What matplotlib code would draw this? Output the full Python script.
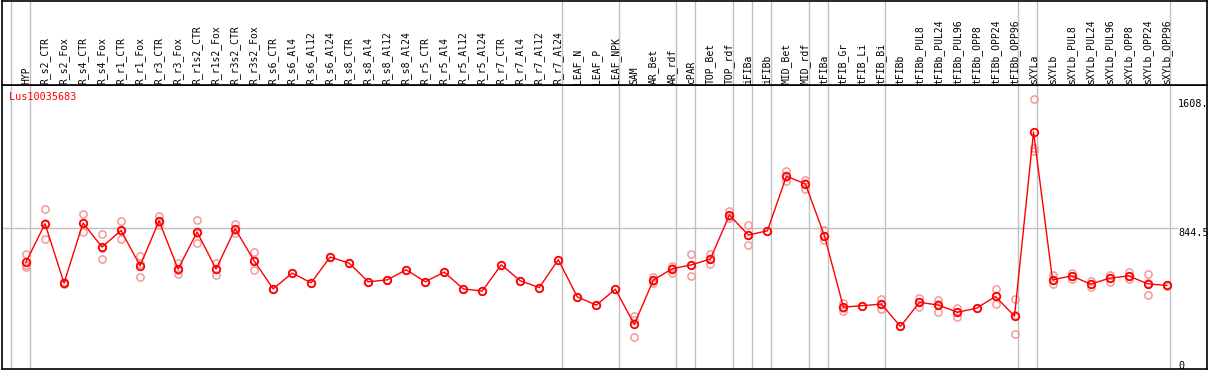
import matplotlib
matplotlib.use("Agg")
import matplotlib.pyplot as plt
from matplotlib.transforms import blended_transform_factory

gene_id = "Lus10035683"

categories = [
    "HYP", "R_s2_CTR", "R_s2_Fox", "R_s4_CTR", "R_s4_Fox", "R_r1_CTR", "R_r1_Fox",
    "R_r3_CTR", "R_r3_Fox", "R_r1s2_CTR", "R_r1s2_Fox", "R_r3s2_CTR", "R_r3s2_Fox",
    "R_s6_CTR", "R_s6_Al4", "R_s6_Al12", "R_s6_Al24", "R_s8_CTR", "R_s8_Al4",
    "R_s8_Al12", "R_s8_Al24", "R_r5_CTR", "R_r5_Al4", "R_r5_Al12", "R_r5_Al24",
    "R_r7_CTR", "R_r7_Al4", "R_r7_Al12", "R_r7_Al24", "LEAF_N", "LEAF_P", "LEAF_NPK",
    "SAM", "AR_Bet", "AR_rdf", "cPAR", "TOP_Bet", "TOP_rdf", "iFIBa", "iFIBb",
    "MID_Bet", "MID_rdf", "tFIBa", "tFIB_Gr", "tFIB_Li", "tFIB_Bi", "tFIBb",
    "tFIBb_PUL8", "tFIBb_PUL24", "tFIBb_PUL96", "tFIBb_OPP8", "tFIBb_OPP24",
    "tFIBb_OPP96", "sXYLa", "sXYLb", "sXYLb_PUL8", "sXYLb_PUL24", "sXYLb_PUL96",
    "sXYLb_OPP8", "sXYLb_OPP24", "sXYLb_OPP96",
]

means = [643, 870, 519, 874, 732, 830, 621, 886, 602, 821, 602, 840, 651,
         485, 578, 521, 673, 637, 527, 538, 598, 527, 584, 485, 472,
         627, 533, 493, 657, 438, 389, 483, 276, 537, 604, 627, 661, 921,
         803, 828, 1150, 1105, 799, 377, 386, 395, 263, 406, 389, 347, 371,
         440, 324, 1412, 538, 562, 513, 548, 562, 515, 505]

replicates = [
    [692, 627, 617], [959, 872, 779], [515, 519, 523], [929, 872, 821],
    [809, 726, 661], [886, 825, 779], [680, 629, 554], [913, 881, 864],
    [637, 599, 570], [892, 815, 756], [637, 605, 564], [870, 835, 815],
    [702, 653, 598],
    [485], [578], [521], [673], [637], [527], [538], [598], [527], [584],
    [485], [472], [627], [533], [493], [657], [438], [389], [483],
    [325, 302, 199], [558, 534, 519], [623, 611, 578], [692, 627, 562],
    [692, 662, 629], [943, 916, 904], [862, 803, 744], [828],
    [1179, 1147, 1124], [1130, 1108, 1077], [830, 796, 771],
    [401, 373, 357], [386], [424, 396, 365], [263],
    [430, 408, 380], [420, 396, 351], [373, 347, 321], [371],
    [483, 442, 395], [426, 329, 217],
    [1608.57, 1318, 1302],
    [564, 535, 515], [580, 560, 546], [533, 511, 495], [568, 548, 528],
    [582, 561, 543], [574, 521, 450], [510, 505, 500],
]

# index of the last category of each group (group separators)
group_ends = [-1, 0, 28, 31, 34, 35, 37, 38, 39, 41, 42, 45, 52, 53, 60]

W, H = 1209, 370
fig = plt.figure(figsize=(W / 100, H / 100), dpi=100)

# layout in pixels
left_px, right_px = 1.5, 1207.0
header_px, bottom_px = 85.0, 369.0
x0_px, step_px = 26.0, 19.01

def fx(p):
    return p / W

def fy(p):
    return 1 - p / H

ax = fig.add_axes([fx(left_px), fy(bottom_px), fx(right_px - left_px),
                   (bottom_px - header_px) / H])
hx = fig.add_axes([fx(left_px), fy(header_px), fx(right_px - left_px),
                   (header_px - 0.5) / H])

xlim = ((left_px - x0_px) / step_px, (right_px - x0_px) / step_px)
all_vals = [v for r in replicates for v in r]
ytop = max(all_vals) * 1.05
ybottom = ytop * ((371 - bottom_px) / (371 - header_px))
for a in (ax, hx):
    a.set_xlim(*xlim)
    a.set_xticks([])
    a.set_yticks([])
    for s in a.spines.values():
        s.set_color("black")
        s.set_linewidth(1.2)
ax.set_ylim(ybottom, ytop)
hx.set_ylim(0, 1)

grey = "#c0c0c0"
for g in group_ends:
    for a in (ax, hx):
        a.axvline(g + 0.2, color=grey, lw=1, zorder=1)

ax.axhline(ytop / 2, xmin=0, xmax=(1177 - left_px) / (right_px - left_px),
           color=grey, lw=1, zorder=1)

xs = list(range(len(categories)))
for i, reps in enumerate(replicates):
    ax.plot([i] * len(reps), reps, linestyle="none", marker="o", ms=5.2,
            mfc="none", mec="#f29a9a", mew=1.1, zorder=2)
ax.plot(xs, means, color="red", lw=1, zorder=3)
ax.plot(xs, means, linestyle="none", marker="o", ms=5.4, mfc="none",
        mec="red", mew=1.3, zorder=4)

mono = "DejaVu Sans Mono"
fs = 7
hdr_tr = blended_transform_factory(hx.transData, fig.transFigure)
for i, c in enumerate(categories):
    hx.text(i, fy(83.5), c, rotation=90, ha="center", va="bottom",
            fontsize=fs, family=mono, color="black", transform=hdr_tr)

fig.text(fx(9), fy(97), gene_id, color="red", fontsize=fs + 0.3, family=mono,
         ha="left", va="center")

lab_x = (1178 - x0_px) / step_px
ymax_val = max(all_vals)
ax.text(lab_x, ymax_val, f"{int(ymax_val)}.", fontsize=fs + 0.3, family=mono,
        ha="left", va="top", zorder=5)
ax.text(lab_x, ytop / 2, f"{ytop / 2:.1f}", fontsize=fs + 0.3, family=mono,
        ha="left", va="top", zorder=5)
ax.text(lab_x, 0, "0", fontsize=fs + 0.3, family=mono,
        ha="left", va="bottom", zorder=5)

fig.savefig("out.png", dpi=100)
